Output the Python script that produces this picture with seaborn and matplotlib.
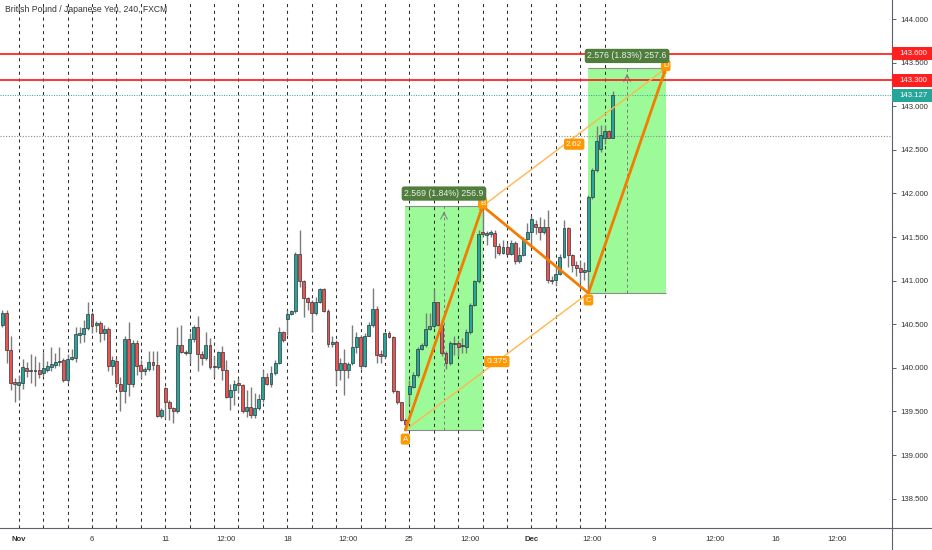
import numpy as np
import pandas as pd
import matplotlib
matplotlib.use("Agg")
import matplotlib.pyplot as plt
import matplotlib.transforms as mtransforms
from matplotlib.patches import Rectangle
from matplotlib.lines import Line2D
import seaborn as sns

# ======================================================
# DATA - GBP/JPY 4h candles
# ======================================================
opens = [
    140.49, 140.63, 140.20, 139.84, 139.80, 139.83, 140.00, 139.96, 139.97, 139.97,
    139.94, 139.97, 140.01, 140.03, 140.07, 140.09, 139.86, 140.10, 140.11, 140.38,
    140.39, 140.46, 140.62, 140.49, 140.51, 140.40, 140.45, 140.02, 140.08, 139.81,
    139.73, 140.33, 139.81, 140.29, 140.03, 139.96, 139.99, 140.07, 140.03, 139.45,
    139.77, 139.61, 139.54, 139.51, 140.26, 140.18, 140.17, 140.33, 140.47, 140.16,
    140.11, 140.26, 140.02, 140.01, 140.18, 139.97, 139.67, 139.75, 139.83, 139.80,
    139.50, 139.55, 139.46, 139.54, 139.64, 139.90, 139.82, 139.94, 140.06, 140.41,
    140.56, 140.62, 140.65, 141.30, 140.99, 140.80, 140.75, 140.63, 140.76, 140.90,
    140.65, 140.27, 140.30, 139.97, 140.06, 139.97, 140.05, 140.24, 140.35, 140.02,
    140.37, 140.49, 140.68, 140.16, 140.13, 140.40, 140.35, 139.73, 139.61, 139.40,
    139.70, 139.78, 139.92, 140.22, 140.26, 140.44, 140.48, 140.75, 140.49, 140.17,
    140.05, 140.27, 140.29, 140.25, 140.24, 140.41, 140.72, 140.99, 141.56, 141.52,
    141.54, 141.55, 141.40, 141.32, 141.38, 141.31, 141.43, 141.22, 141.29, 141.48,
    141.56, 141.65, 141.62, 141.56, 141.62, 141.01, 141.01, 141.08, 141.27, 141.60,
    141.29, 141.18, 141.15, 141.10, 141.11, 141.96, 142.27, 142.51, 142.64, 142.71,
    142.64,
]
highs = [
    140.66, 140.66, 140.37, 139.88, 139.92, 140.10, 140.07, 140.16, 140.13, 140.07,
    140.18, 140.08, 140.24, 140.17, 140.24, 140.11, 140.16, 140.22, 140.47, 140.47,
    140.55, 140.75, 140.64, 140.54, 140.54, 140.49, 140.47, 140.13, 140.11, 139.90,
    140.36, 140.53, 140.32, 140.32, 140.09, 140.01, 140.19, 140.19, 140.19, 139.54,
    139.78, 139.63, 139.55, 140.47, 140.49, 140.20, 140.40, 140.49, 140.59, 140.19,
    140.41, 140.34, 140.13, 140.19, 140.25, 140.09, 139.82, 139.86, 139.88, 139.82,
    139.75, 139.78, 139.71, 139.70, 139.97, 139.94, 140.02, 140.09, 140.47, 140.42,
    140.66, 140.66, 141.33, 141.58, 141.01, 140.81, 140.78, 140.81, 140.92, 140.92,
    140.67, 140.37, 140.32, 140.11, 140.22, 140.07, 140.49, 140.41, 140.38, 140.40,
    140.53, 140.92, 140.71, 140.20, 140.41, 140.42, 140.37, 139.75, 139.61, 139.42,
    139.86, 139.95, 140.24, 140.28, 140.63, 140.63, 140.90, 140.76, 140.55, 140.19,
    140.31, 140.36, 140.32, 140.34, 140.45, 140.74, 141.01, 141.58, 141.855, 141.57,
    141.58, 141.58, 141.43, 141.46, 141.43, 141.46, 141.45, 141.39, 141.50, 141.66,
    141.74, 141.70, 141.73, 141.71, 141.81, 141.05, 141.14, 141.31, 141.70, 141.62,
    141.31, 141.22, 141.24, 141.21, 141.98, 142.29, 142.77, 142.78, 142.78, 142.73,
    143.17,
]
lows = [
    140.47, 140.06, 139.75, 139.61, 139.63, 139.76, 139.90, 139.83, 139.79, 139.88,
    139.91, 139.95, 139.96, 140.00, 140.02, 139.84, 139.83, 140.09, 140.07, 140.28,
    140.30, 140.43, 140.40, 140.41, 140.30, 140.32, 139.96, 139.92, 139.78, 139.50,
    139.60, 139.68, 139.78, 139.92, 139.88, 139.92, 139.96, 139.97, 139.44, 139.42,
    139.42, 139.40, 139.37, 139.48, 140.17, 140.15, 140.05, 140.30, 139.96, 140.03,
    140.09, 139.99, 139.90, 139.99, 139.86, 139.65, 139.52, 139.57, 139.71, 139.48,
    139.44, 139.42, 139.43, 139.52, 139.61, 139.80, 139.78, 139.92, 140.04, 140.30,
    140.38, 140.61, 140.63, 140.93, 140.58, 140.66, 140.41, 140.61, 140.74, 140.64,
    140.24, 140.24, 139.80, 139.86, 139.69, 139.88, 140.03, 140.17, 139.99, 140.01,
    140.36, 140.47, 140.05, 140.05, 140.11, 140.34, 139.71, 139.59, 139.39, 139.286,
    139.59, 139.77, 139.90, 140.21, 140.24, 140.43, 140.46, 140.48, 140.13, 139.99,
    140.03, 140.15, 140.13, 140.17, 140.17, 140.39, 140.71, 140.97, 141.51, 141.41,
    141.50, 141.26, 141.29, 141.31, 141.29, 141.29, 141.19, 141.20, 141.28, 141.46,
    141.39, 141.54, 141.46, 141.54, 140.97, 140.96, 140.94, 141.06, 141.26, 141.16,
    141.10, 141.05, 140.97, 141.01, 140.857, 141.94, 142.25, 142.48, 142.57, 142.63,
    142.63,
]
closes = [
    140.63, 140.20, 139.83, 139.81, 139.84, 140.01, 139.96, 139.97, 139.96, 139.93,
    140.00, 140.02, 140.04, 140.07, 140.08, 139.86, 140.10, 140.12, 140.39, 140.40,
    140.46, 140.62, 140.48, 140.51, 140.40, 140.45, 140.02, 140.09, 139.83, 139.73,
    140.33, 139.81, 140.29, 140.02, 139.96, 139.99, 140.07, 140.03, 139.45, 139.52,
    139.61, 139.54, 139.51, 140.26, 140.18, 140.17, 140.33, 140.47, 140.16, 140.11,
    140.26, 140.01, 140.01, 140.18, 139.97, 139.67, 139.75, 139.82, 139.80, 139.50,
    139.55, 139.46, 139.54, 139.64, 139.90, 139.82, 139.94, 140.06, 140.41, 140.32,
    140.62, 140.65, 141.30, 140.99, 140.80, 140.76, 140.63, 140.76, 140.90, 140.65,
    140.27, 140.30, 139.97, 140.06, 139.97, 140.04, 140.24, 140.35, 140.02, 140.37,
    140.49, 140.68, 140.15, 140.13, 140.40, 140.35, 139.73, 139.61, 139.40, 139.36,
    139.79, 139.92, 140.22, 140.26, 140.44, 140.48, 140.75, 140.49, 140.17, 140.05,
    140.29, 140.29, 140.24, 140.26, 140.41, 140.72, 140.99, 141.53, 141.53, 141.55,
    141.56, 141.40, 141.32, 141.38, 141.31, 141.43, 141.22, 141.29, 141.48, 141.56,
    141.71, 141.62, 141.56, 141.62, 141.01, 141.00, 141.08, 141.27, 141.60, 141.29,
    141.18, 141.14, 141.10, 141.12, 141.96, 142.27, 142.60, 142.67, 142.71, 142.64,
    143.127,
]
first_bar = -4          # first candle is 4 bars before Nov 1 00:00
bars_per_day = 6

# x axis labels (in trading days from Nov 1)
tick_days = [0, 3, 6, 8.5, 11, 13.5, 16, 18.5, 21, 23.5, 26, 28.5, 31, 33.5]
tick_labels = ['Nov', '6', '11', '12:00', '18', '12:00', '25', '12:00',
               'Dec', '12:00', '9', '12:00', '16', '12:00']
n_day_lines = 25

# ABCD pattern
pattern_names = ['A', 'B', 'C', 'D']
pattern_bars = [95, 114, 140, 159]
pattern_prices = [139.286, 141.855, 140.857, 143.433]
ratio_ac = '0.375'
ratio_bd = '2.62'

# price range tools (A->B, C->D)
range_texts = ['2.569 (1.84%) 256.9', '2.576 (1.83%) 257.6']

# horizontal levels
red_levels = [143.600, 143.300]
last_price = 143.127
grey_level = 142.66

title = 'British Pound / Japanese Yen, 240, FXCM'

# ======================================================
# STYLE
# ======================================================
sns.set_theme(style='white')
plt.rcParams['font.family'] = ['Liberation Sans', 'DejaVu Sans']

UP = '#26a69a'
DOWN = '#ef5350'
ORANGE = '#f57c00'
LIGHT_ORANGE = '#ffb74d'
LABEL_ORANGE = '#ff9800'
BOX_GREEN = '#9cfa98'
TAG_GREEN = '#4e7d3c'
AXIS_GREY = '#5d606b'

df = pd.DataFrame({'open': opens, 'high': highs, 'low': lows, 'close': closes})
df['bar'] = np.arange(len(df)) + first_bar
df['up'] = df['close'] >= df['open']

fig = plt.figure(figsize=(9.32, 5.5), dpi=100)
ax = fig.add_axes([0.0, 0.04, 892 / 932, 0.96])

ax.set_xlim(-4.6, 214.6)
ax.set_ylim(138.163, 144.218)

# day separators
for d in range(n_day_lines):
    ax.axvline(d * bars_per_day, color='#2e2e2e', lw=0.75, ls=(0, (3, 3.5)), zorder=1)

# ======================================================
# PRICE RANGE BOXES
# ======================================================
for i, (s, e) in enumerate([(0, 1), (2, 3)]):
    x0, x1 = pattern_bars[s], pattern_bars[e]
    lo, hi = pattern_prices[s], pattern_prices[e]
    ax.add_patch(Rectangle((x0, lo), x1 - x0, hi - lo, facecolor=BOX_GREEN,
                           edgecolor='none', zorder=0.5))
    ax.hlines([lo, hi], x0, x1, color='#8c8c8c', lw=0.8, zorder=0.6)
    cx = (x0 + x1) / 2
    ax.vlines(cx, lo, hi, color='#7a7a7a', lw=0.7, ls=(0, (3, 3)), zorder=1)
    ax.annotate('', xy=(cx, hi - 0.03), xytext=(cx, hi - 0.14),
                arrowprops=dict(arrowstyle='->', color='#7a7a7a', lw=0.7), zorder=1)
    ax.annotate(range_texts[i], xy=(cx, hi), xytext=(0, 9), textcoords='offset points',
                ha='center', va='center', fontsize=6.3, color='#eeeeee', zorder=9,
                bbox=dict(boxstyle='round,pad=0.3', fc=TAG_GREEN, ec='none'))

# ======================================================
# HORIZONTAL LEVELS
# ======================================================
for lvl in red_levels:
    ax.axhline(lvl, color='#ff1f1f', lw=1.4, alpha=0.9, zorder=2)
ax.axhline(last_price, color=UP, lw=0.7, ls=(0, (1, 1.5)), zorder=2)
ax.axhline(grey_level, color='#8a8a8a', lw=0.8, ls=(0, (1, 1.5)), zorder=2)

# ======================================================
# CANDLES
# ======================================================
colors = np.where(df['up'], UP, DOWN)
ax.vlines(df['bar'], df['low'], df['high'], color='#7b7b7b', lw=1.0, zorder=3)
body = (df['close'] - df['open']).abs().clip(lower=0.01)
ax.bar(df['bar'], body, bottom=np.minimum(df['open'], df['close']), width=0.72,
       color=colors, edgecolor='#30343a', linewidth=0.5, zorder=4)

# ======================================================
# ABCD PATTERN
# ======================================================
abcd = pd.DataFrame({'bar': pattern_bars, 'price': pattern_prices})
ax.plot([pattern_bars[0], pattern_bars[2]], [pattern_prices[0], pattern_prices[2]],
        color=LIGHT_ORANGE, lw=1.0, zorder=5)
ax.plot([pattern_bars[1], pattern_bars[3]], [pattern_prices[1], pattern_prices[3]],
        color=LIGHT_ORANGE, lw=1.0, zorder=5)
sns.lineplot(data=abcd, x='bar', y='price', sort=False, color=ORANGE, lw=2.0,
             ax=ax, zorder=6)
for s, e in [(0, 1), (2, 3)]:
    ax.annotate('', xy=(pattern_bars[e], pattern_prices[e]),
                xytext=(pattern_bars[s], pattern_prices[s]),
                arrowprops=dict(arrowstyle='-|>', color=ORANGE, lw=0, mutation_scale=9,
                                shrinkA=0, shrinkB=0), zorder=6)

offsets = [(0, -6.5), (0, 2), (0, -5), (0, 2)]
for name, bx, py, off in zip(pattern_names, pattern_bars, pattern_prices, offsets):
    ax.annotate(name, xy=(bx, py), xytext=off, textcoords='offset points',
                ha='center', va='center', fontsize=5.7, color='white', zorder=8,
                bbox=dict(boxstyle='round,pad=0.25', fc=LABEL_ORANGE, ec='none'))

for (s, e), txt, dy in [((0, 2), ratio_ac, 0), ((1, 3), ratio_bd, -5)]:
    mx = (pattern_bars[s] + pattern_bars[e]) / 2
    my = (pattern_prices[s] + pattern_prices[e]) / 2
    ax.annotate(txt, xy=(mx, my), xytext=(0, dy), textcoords='offset points',
                ha='center', va='center', fontsize=6.0, color='white', zorder=8,
                bbox=dict(boxstyle='round,pad=0.25', fc=LABEL_ORANGE, ec='none'))

# ======================================================
# AXES
# ======================================================
ax.set_xlabel('')
ax.set_ylabel('')
ax.set_xticks(np.array(tick_days) * bars_per_day)
ax.set_xticklabels(tick_labels)
for lab in ax.get_xticklabels():
    if lab.get_text() in ('Nov', 'Dec'):
        lab.set_fontweight('bold')
ax.tick_params(axis='x', length=0, pad=6, labelsize=5.6, labelcolor='#333333')

yticks = np.arange(138.5, 144.01, 0.5)
ax.yaxis.tick_right()
ax.set_yticks(yticks)
ax.set_yticklabels([f'{v:.3f}' for v in yticks])
ax.tick_params(axis='y', right=True, length=3, width=0.7, color=AXIS_GREY, pad=3,
               labelsize=5.6, labelcolor='#333333')

for side in ['top', 'left']:
    ax.spines[side].set_visible(False)
for side in ['bottom', 'right']:
    ax.spines[side].set_color(AXIS_GREY)
    ax.spines[side].set_linewidth(0.8)

# axis lines running into the margins
fig.add_artist(Line2D([892 / 932, 1.0], [0.04, 0.04], color=AXIS_GREY, lw=0.8))
fig.add_artist(Line2D([892 / 932, 892 / 932], [0.0, 0.04], color=AXIS_GREY, lw=0.8))

# price tags on the right axis
trans = mtransforms.blended_transform_factory(ax.transAxes, ax.transData)
tags = [(red_levels[0], '#ff1f1f'), (red_levels[1], '#ff1f1f'), (last_price, UP)]
for lvl, col in tags:
    ax.add_patch(Rectangle((1.0, lvl - 0.075), 40 / 892, 0.15, transform=trans,
                           facecolor=col, edgecolor='none', clip_on=False, zorder=10))
    ax.text(1.0 + 7 / 892, lvl, f'{lvl:.3f}', transform=trans, ha='left', va='center',
            fontsize=5.6, color='white', clip_on=False, zorder=11)

fig.text(5 / 932, 1 - 10 / 550, title, ha='left', va='center', fontsize=6.2,
         color='#333333')

plt.savefig('out.png', dpi=100)
plt.close()
